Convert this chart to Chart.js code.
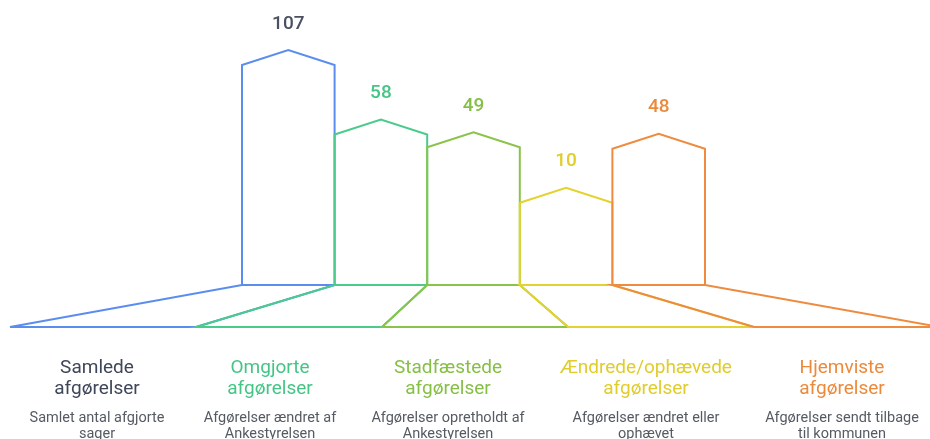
<!DOCTYPE html>
<html lang="da">
<head>
<meta charset="utf-8">
<title>Afgørelser</title>
<script src="https://cdn.jsdelivr.net/npm/chart.js@4.4.1/dist/chart.umd.min.js"></script>
<style>
    html, body { margin: 0; padding: 0; background: #fff; }
    #wrap { width: 930px; height: 439px; position: relative; }
</style>
</head>
<body>
<div id="wrap"><canvas id="chart"></canvas></div>
<script>
// data
const titles = [
    ['Samlede', 'afgørelser'],
    ['Omgjorte', 'afgørelser'],
    ['Stadfæstede', 'afgørelser'],
    ['Ændrede/ophævede', 'afgørelser'],
    ['Hjemviste', 'afgørelser']
];
const descriptions = [
    ['Samlet antal afgjorte', 'sager'],
    ['Afgørelser ændret af', 'Ankestyrelsen'],
    ['Afgørelser opretholdt af', 'Ankestyrelsen'],
    ['Afgørelser ændret eller', 'ophævet'],
    ['Afgørelser sendt tilbage', 'til kommunen']
];
const values = [107, 58, 49, 10, 48];

const colors = ['#5b8def', '#4bcb8b', '#8bc34a', '#e3d22f', '#ee8b3e'];
const titleColors = ['#3f4659', '#45c585', '#86bf45', '#e0cd2a', '#ec8a3c'];
const valueColors = ['#4a5060', '#45c585', '#86bf45', '#e0cd2a', '#ec8a3c'];

// tegner "husene" og foden under dem
const housePlugin = {
    id: 'houses',
    afterDatasetsDraw(chart) {
        const ctx = chart.ctx;
        const area = chart.chartArea;
        const meta = chart.getDatasetMeta(0);
        const base = area.bottom;
        const floorY = base + 42;
        const fanLeft = 10;
        const step = (chart.width + 10 - fanLeft) / meta.data.length;

        ctx.save();
        ctx.lineWidth = 2;
        ctx.lineJoin = 'miter';
        meta.data.forEach((bar, i) => {
            const half = bar.width / 2;
            const l = bar.x - half;
            const r = bar.x + half;
            const top = bar.y;
            const peak = top - 15;
            ctx.strokeStyle = colors[i];

            ctx.beginPath();
            ctx.moveTo(l, base);
            ctx.lineTo(l, top);
            ctx.lineTo(bar.x, peak);
            ctx.lineTo(r, top);
            ctx.lineTo(r, base);
            ctx.stroke();

            ctx.beginPath();
            ctx.moveTo(l, base);
            ctx.lineTo(r, base);
            ctx.lineTo(fanLeft + step * (i + 1), floorY);
            ctx.lineTo(fanLeft + step * i, floorY);
            ctx.closePath();
            ctx.stroke();

            ctx.fillStyle = valueColors[i];
            ctx.font = '500 19px Roboto';
            ctx.textAlign = 'center';
            ctx.textBaseline = 'middle';
            ctx.fillText(values[i], bar.x, peak - 26);
        });
        ctx.restore();
    },
    afterDraw(chart) {
        const ctx = chart.ctx;
        const centers = [97, 270, 448, 646, 842];
        ctx.save();
        ctx.textAlign = 'center';
        ctx.textBaseline = 'middle';
        titles.forEach((t, i) => {
            ctx.fillStyle = titleColors[i];
            ctx.font = '19px Roboto';
            t.forEach((line, j) => ctx.fillText(line, centers[i], 368 + j * 21));
            ctx.fillStyle = '#555a63';
            ctx.font = '14.5px Roboto';
            descriptions[i].forEach((line, j) => ctx.fillText(line, centers[i], 418 + j * 16));
        });
        ctx.restore();
    }
};

const ctx = document.getElementById('chart').getContext('2d');
new Chart(ctx, {
    type: 'bar',
    data: {
        labels: titles.map(t => t.join(' ')),
        datasets: [{
            data: values,
            backgroundColor: 'rgba(0,0,0,0)',
            borderWidth: 0,
            categoryPercentage: 1,
            barPercentage: 1
        }]
    },
    options: {
        responsive: true,
        maintainAspectRatio: false,
        animation: false,
        layout: { padding: { top: 65, bottom: 154, left: 242, right: 225 } },
        plugins: { legend: { display: false }, tooltip: { enabled: false } },
        scales: {
            x: { display: false },
            y: { display: false, min: -48, max: 107 }
        }
    },
    plugins: [housePlugin]
});
</script>
</body>
</html>
